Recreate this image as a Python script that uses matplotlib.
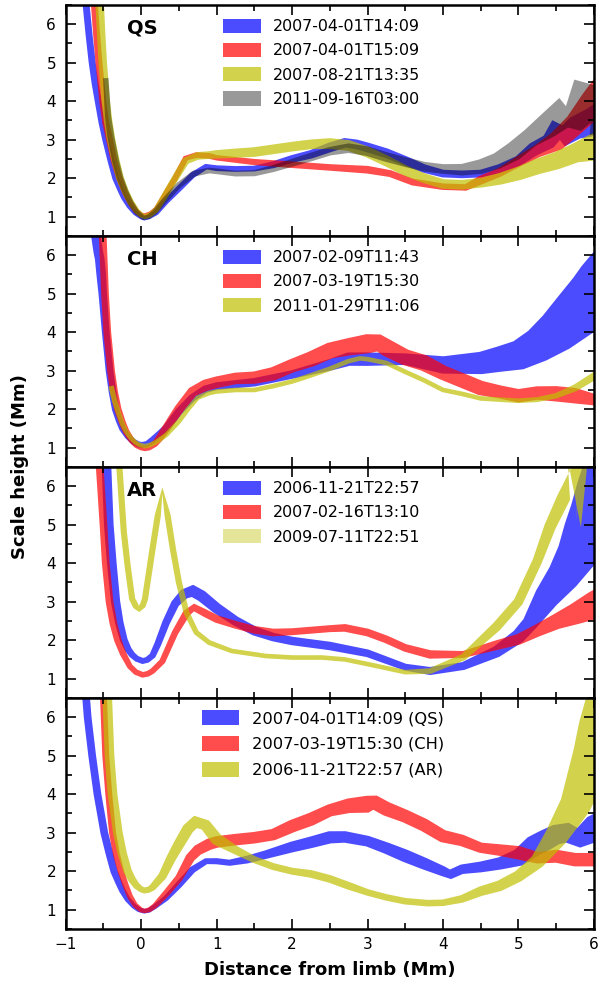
import matplotlib
matplotlib.use("Agg")
import matplotlib.pyplot as plt
import matplotlib.patches as mpatches
import numpy as np
from matplotlib.ticker import MultipleLocator

# Each band: centre line (x, y) and thickness w (Mm, measured across the band).
# The last point of a band may sit just past x = 6, where the axes clip it.

# ---- panel 1 : quiet sun ----
qs1_x = [-0.80,-0.73,-0.69,-0.65,-0.61,-0.57,-0.52,-0.47,-0.40,-0.34,-0.28,-0.23,-0.16,-0.08,0.00,0.04,0.10,0.20,0.33,0.50,0.68,0.86,1.00,1.25,1.50,1.75,2.00,2.25,2.50,2.70,2.85,3.00,3.25,3.50,3.75,4.00,4.25,4.50,4.75,5.00,5.20,5.40,5.50,5.60,5.75,5.90,6.00,6.15]
qs1_y = [7.5,6.5,5.7,5.0,4.45,4.0,3.45,3.0,2.45,2.0,1.72,1.5,1.28,1.1,0.99,0.96,0.99,1.1,1.4,1.73,2.08,2.3,2.26,2.24,2.25,2.35,2.5,2.62,2.8,2.92,2.88,2.8,2.65,2.45,2.25,2.12,2.1,2.12,2.25,2.45,2.75,2.95,3.25,3.1,3.3,3.4,3.5,3.7]
qs1_w = [0.18,0.18,0.18,0.18,0.18,0.18,0.18,0.18,0.18,0.17,0.16,0.15,0.14,0.13,0.12,0.12,0.12,0.13,0.15,0.16,0.16,0.15,0.15,0.15,0.15,0.18,0.2,0.22,0.25,0.25,0.25,0.25,0.25,0.25,0.22,0.2,0.2,0.2,0.23,0.27,0.36,0.4,0.55,0.55,0.6,0.7,0.7,0.7]

qs2_x = [-0.68,-0.62,-0.59,-0.56,-0.51,-0.47,-0.42,-0.36,-0.29,-0.22,-0.15,-0.07,0.00,0.05,0.12,0.20,0.30,0.45,0.59,0.73,0.90,1.00,1.50,2.00,2.50,3.00,3.30,3.60,4.00,4.30,4.50,4.75,5.00,5.25,5.50,5.75,6.00,6.15]
qs2_y = [7.8,6.5,5.7,5.0,4.0,3.45,3.0,2.45,2.0,1.65,1.38,1.15,1.05,1.03,1.08,1.2,1.52,2.0,2.52,2.6,2.58,2.53,2.42,2.35,2.28,2.22,2.12,1.9,1.78,1.76,1.95,2.15,2.43,2.7,2.95,3.4,3.95,4.3]
qs2_w = [0.18,0.18,0.18,0.18,0.18,0.18,0.18,0.17,0.16,0.15,0.14,0.13,0.12,0.12,0.12,0.13,0.14,0.15,0.15,0.15,0.15,0.14,0.16,0.17,0.17,0.2,0.18,0.18,0.17,0.17,0.23,0.23,0.27,0.33,0.5,0.56,0.75,0.8]

qs3_x = [-0.60,-0.55,-0.53,-0.51,-0.47,-0.44,-0.40,-0.34,-0.28,-0.21,-0.14,-0.06,0.00,0.05,0.12,0.20,0.30,0.45,0.59,0.75,0.90,1.00,1.25,1.50,1.75,2.00,2.25,2.50,2.75,3.00,3.25,3.50,3.75,4.00,4.25,4.50,4.75,5.00,5.25,5.50,5.75,6.00,6.15]
qs3_y = [7.8,6.5,5.7,5.0,4.0,3.5,3.0,2.45,2.0,1.65,1.38,1.15,1.04,1.0,1.05,1.18,1.5,2.0,2.45,2.58,2.6,2.62,2.65,2.68,2.75,2.82,2.88,2.9,2.85,2.68,2.45,2.2,2.0,1.85,1.83,1.88,1.98,2.12,2.3,2.45,2.65,2.8,2.9]
qs3_w = [0.22,0.22,0.22,0.22,0.22,0.22,0.22,0.21,0.2,0.18,0.17,0.15,0.14,0.14,0.14,0.15,0.17,0.18,0.2,0.2,0.2,0.22,0.24,0.25,0.25,0.25,0.25,0.28,0.28,0.28,0.28,0.27,0.25,0.25,0.25,0.25,0.3,0.35,0.4,0.45,0.5,0.7,0.7]

qs4_x = [-0.47,-0.44,-0.40,-0.34,-0.28,-0.21,-0.14,-0.06,0.03,0.10,0.18,0.30,0.50,0.70,0.90,1.00,1.25,1.50,1.75,2.00,2.25,2.50,2.75,3.00,3.25,3.50,3.75,4.00,4.25,4.50,4.72,4.94,5.16,5.38,5.60,5.73,5.85,6.00,6.15]
qs4_y = [4.6,3.6,3.05,2.45,2.0,1.65,1.36,1.12,0.97,1.0,1.12,1.4,1.82,2.12,2.2,2.18,2.12,2.13,2.25,2.4,2.55,2.7,2.78,2.7,2.55,2.42,2.3,2.24,2.22,2.3,2.45,2.7,3.05,3.35,3.7,3.55,4.0,3.75,3.9]
qs4_w = [0.14,0.16,0.18,0.18,0.17,0.16,0.15,0.14,0.13,0.13,0.14,0.15,0.16,0.16,0.15,0.15,0.15,0.16,0.18,0.2,0.22,0.22,0.25,0.25,0.25,0.25,0.25,0.25,0.3,0.38,0.42,0.5,0.5,0.65,0.8,0.75,1.2,1.3,1.3]

# ---- panel 2 : coronal hole ----
ch1_x = [-0.64,-0.60,-0.57,-0.55,-0.53,-0.51,-0.47,-0.42,-0.38,-0.34,-0.29,-0.25,-0.18,-0.10,-0.03,0.02,0.08,0.15,0.24,0.33,0.50,0.68,0.85,1.00,1.50,2.00,2.50,2.75,3.00,3.50,4.00,4.50,4.75,5.00,5.25,5.50,5.75,6.00,6.15]
ch1_y = [7.0,6.5,6.1,5.9,5.5,5.0,4.0,3.0,2.45,2.0,1.7,1.5,1.3,1.15,1.08,1.07,1.1,1.2,1.35,1.5,1.94,2.3,2.52,2.6,2.7,2.9,3.15,3.3,3.3,3.3,3.15,3.2,3.3,3.4,3.65,4.0,4.45,4.85,5.2]
ch1_w = [0.25,0.25,0.25,0.25,0.25,0.22,0.2,0.2,0.2,0.19,0.18,0.17,0.16,0.16,0.16,0.16,0.16,0.17,0.18,0.2,0.2,0.2,0.2,0.2,0.22,0.22,0.3,0.35,0.35,0.3,0.45,0.58,0.66,0.77,0.9,1.1,1.3,1.55,1.6]

ch2_x = [-0.55,-0.51,-0.48,-0.45,-0.40,-0.36,-0.31,-0.25,-0.20,-0.13,-0.06,0.00,0.05,0.10,0.18,0.25,0.33,0.50,0.68,0.85,1.00,1.25,1.50,1.75,2.00,2.25,2.50,2.75,3.00,3.15,3.25,3.50,3.75,4.00,4.25,4.50,4.75,5.00,5.25,5.50,5.75,6.00,6.15]
ch2_y = [7.5,6.5,5.0,4.0,3.0,2.45,2.0,1.65,1.42,1.2,1.06,1.0,0.98,1.0,1.1,1.27,1.5,2.0,2.45,2.62,2.7,2.8,2.82,2.92,3.13,3.3,3.52,3.62,3.7,3.72,3.6,3.35,3.2,2.95,2.75,2.55,2.45,2.35,2.42,2.4,2.35,2.25,2.2]
ch2_w = [0.2,0.2,0.2,0.2,0.2,0.2,0.19,0.18,0.17,0.16,0.15,0.14,0.14,0.15,0.17,0.2,0.22,0.25,0.27,0.3,0.3,0.3,0.32,0.35,0.35,0.4,0.42,0.45,0.5,0.45,0.45,0.42,0.42,0.38,0.38,0.38,0.34,0.35,0.35,0.4,0.4,0.3,0.3]

ch3_x = [-0.40,-0.35,-0.30,-0.25,-0.20,-0.14,-0.08,-0.02,0.05,0.12,0.20,0.33,0.50,0.62,0.75,0.90,1.00,1.25,1.50,1.75,2.00,2.25,2.50,2.75,2.90,3.00,3.25,3.50,3.75,4.00,4.25,4.50,4.75,5.00,5.25,5.50,5.75,6.00,6.15]
ch3_y = [2.6,2.2,1.9,1.62,1.42,1.26,1.14,1.07,1.04,1.07,1.15,1.33,1.68,2.0,2.3,2.42,2.46,2.5,2.5,2.6,2.72,2.88,3.05,3.25,3.32,3.3,3.2,2.97,2.75,2.5,2.4,2.28,2.25,2.22,2.25,2.35,2.55,2.85,3.05]
ch3_w = [0.14,0.14,0.13,0.13,0.12,0.12,0.12,0.12,0.12,0.12,0.12,0.12,0.12,0.12,0.12,0.12,0.12,0.12,0.12,0.12,0.12,0.12,0.12,0.12,0.12,0.12,0.12,0.12,0.12,0.12,0.12,0.12,0.12,0.12,0.13,0.14,0.18,0.2,0.2]

# ---- panel 3 : active region ----
ar1_x = [-0.50,-0.46,-0.43,-0.39,-0.34,-0.29,-0.23,-0.17,-0.12,-0.06,0.02,0.08,0.15,0.22,0.33,0.45,0.57,0.68,0.80,1.00,1.25,1.50,1.75,2.00,2.50,3.00,3.50,3.83,4.27,4.71,5.00,5.15,5.37,5.59,5.77,5.90,6.00,6.10]
ar1_y = [7.5,6.5,5.0,4.0,3.0,2.45,2.0,1.75,1.62,1.52,1.46,1.49,1.6,1.9,2.46,2.95,3.2,3.28,3.15,2.83,2.5,2.24,2.08,1.98,1.85,1.66,1.3,1.2,1.33,1.7,2.1,2.43,3.1,3.65,4.2,4.8,5.3,5.9]
ar1_w = [0.25,0.25,0.25,0.25,0.24,0.22,0.2,0.18,0.17,0.16,0.16,0.16,0.17,0.18,0.2,0.22,0.27,0.32,0.3,0.28,0.25,0.24,0.22,0.22,0.22,0.2,0.18,0.21,0.21,0.3,0.37,0.4,0.65,0.85,1.05,1.2,1.25,1.3]

ar2_x = [-0.60,-0.55,-0.50,-0.47,-0.42,-0.37,-0.31,-0.24,-0.15,-0.07,0.02,0.09,0.15,0.28,0.45,0.60,0.70,0.85,1.00,1.25,1.50,1.75,2.00,2.25,2.50,2.70,3.00,3.25,3.50,3.83,4.27,4.71,5.00,5.25,5.50,5.75,6.00,6.15]
ar2_y = [7.5,6.5,5.0,4.0,3.0,2.45,2.0,1.65,1.32,1.17,1.1,1.13,1.2,1.45,2.2,2.7,2.85,2.7,2.55,2.4,2.27,2.2,2.22,2.26,2.3,2.32,2.2,2.02,1.8,1.63,1.63,1.87,2.02,2.25,2.48,2.68,2.9,3.05]
ar2_w = [0.2,0.2,0.2,0.2,0.2,0.2,0.19,0.17,0.15,0.15,0.15,0.15,0.15,0.16,0.17,0.2,0.2,0.2,0.2,0.2,0.2,0.2,0.18,0.18,0.18,0.2,0.2,0.2,0.2,0.22,0.18,0.25,0.28,0.32,0.4,0.55,0.72,0.75]

ar3_x = [-0.30,-0.23,-0.18,-0.12,-0.07,-0.03,0.02,0.05,0.15,0.22,0.28,0.35,0.42,0.50,0.60,0.73,0.90,1.20,1.65,2.00,2.40,2.70,3.00,3.50,3.83,4.27,4.71,5.00,5.25,5.42,5.60,5.73,5.80,5.86,6.00]
ar3_y = [6.8,4.8,3.93,3.07,2.88,2.81,2.9,3.07,4.37,5.24,5.89,5.24,4.37,3.5,2.72,2.2,1.94,1.72,1.59,1.55,1.55,1.5,1.38,1.17,1.2,1.56,2.35,3.0,4.05,4.95,5.7,6.8,5.0,7.0,7.5]
ar3_w = [0.16,0.16,0.16,0.16,0.16,0.16,0.16,0.16,0.16,0.16,0.16,0.16,0.16,0.16,0.15,0.14,0.13,0.12,0.12,0.12,0.12,0.12,0.12,0.12,0.15,0.18,0.25,0.25,0.25,0.3,0.35,0.35,0.18,0.3,0.3]

# ---- panel 4 : comparison ----
cq_x = [-0.80,-0.73,-0.71,-0.65,-0.58,-0.53,-0.49,-0.42,-0.36,-0.30,-0.25,-0.18,-0.10,-0.03,0.04,0.10,0.18,0.33,0.50,0.68,0.86,1.00,1.17,1.40,1.65,2.00,2.25,2.50,2.70,3.00,3.25,3.50,3.75,4.00,4.10,4.25,4.50,4.75,5.00,5.20,5.35,5.50,5.65,5.80,6.00,6.15]
cq_y = [7.5,6.5,6.0,5.0,4.0,3.45,3.0,2.45,2.0,1.72,1.5,1.27,1.1,1.0,0.96,0.98,1.08,1.3,1.65,2.04,2.26,2.26,2.22,2.3,2.43,2.63,2.75,2.88,2.89,2.78,2.6,2.4,2.2,2.0,1.92,2.05,2.11,2.2,2.35,2.65,2.8,2.95,3.0,2.87,3.1,3.25]
cq_w = [0.2,0.2,0.2,0.2,0.2,0.2,0.2,0.2,0.19,0.18,0.17,0.15,0.14,0.13,0.12,0.12,0.13,0.15,0.18,0.18,0.16,0.16,0.16,0.2,0.22,0.28,0.3,0.32,0.3,0.28,0.3,0.33,0.31,0.26,0.25,0.25,0.28,0.32,0.45,0.55,0.55,0.52,0.52,0.52,0.7,0.7]

cc_x = [-0.56,-0.50,-0.47,-0.43,-0.38,-0.33,-0.27,-0.21,-0.15,-0.08,0.00,0.05,0.11,0.18,0.33,0.50,0.65,0.75,0.90,1.00,1.25,1.50,1.75,2.00,2.25,2.50,2.75,3.00,3.10,3.25,3.50,3.75,4.00,4.25,4.50,4.75,5.00,5.25,5.50,5.75,6.00,6.15]
cc_y = [7.5,6.5,5.0,4.0,3.0,2.45,2.0,1.65,1.35,1.12,0.99,0.97,1.0,1.1,1.42,1.82,2.35,2.55,2.7,2.76,2.82,2.87,2.95,3.17,3.35,3.58,3.7,3.74,3.78,3.62,3.43,3.2,2.91,2.8,2.61,2.55,2.48,2.35,2.39,2.3,2.3,2.3]
cc_w = [0.18,0.18,0.18,0.18,0.18,0.18,0.17,0.16,0.15,0.14,0.13,0.12,0.13,0.14,0.18,0.2,0.25,0.28,0.3,0.3,0.3,0.3,0.3,0.33,0.34,0.32,0.38,0.44,0.38,0.37,0.34,0.34,0.33,0.3,0.27,0.3,0.35,0.3,0.34,0.35,0.35,0.35]

ca_x = [-0.52,-0.45,-0.42,-0.38,-0.31,-0.25,-0.18,-0.12,-0.06,0.00,0.04,0.10,0.15,0.28,0.40,0.50,0.62,0.72,0.85,1.00,1.25,1.50,1.75,2.00,2.25,2.50,2.75,3.00,3.25,3.50,3.80,4.00,4.25,4.50,4.75,5.00,5.25,5.50,5.75,6.00,6.10]
ca_y = [7.5,6.5,5.0,4.0,3.0,2.45,2.0,1.78,1.62,1.53,1.5,1.52,1.58,1.87,2.35,2.7,3.1,3.28,3.2,2.83,2.55,2.3,2.12,2.0,1.93,1.8,1.62,1.45,1.32,1.22,1.17,1.18,1.28,1.48,1.62,1.87,2.25,2.9,3.7,5.0,5.7]
ca_w = [0.25,0.25,0.25,0.25,0.25,0.24,0.22,0.2,0.18,0.16,0.16,0.16,0.18,0.22,0.25,0.28,0.3,0.33,0.3,0.32,0.22,0.18,0.18,0.18,0.2,0.2,0.2,0.17,0.17,0.17,0.17,0.17,0.2,0.25,0.28,0.3,0.38,0.6,0.8,1.1,1.2]

panels = [
    ("QS", [(qs1_x, qs1_y, qs1_w, "b", 0.7, "2007-04-01T14:09"),
            (qs2_x, qs2_y, qs2_w, "r", 0.7, "2007-04-01T15:09"),
            (qs3_x, qs3_y, qs3_w, "y", 0.7, "2007-08-21T13:35"),
            (qs4_x, qs4_y, qs4_w, "k", 0.4, "2011-09-16T03:00")]),
    ("CH", [(ch1_x, ch1_y, ch1_w, "b", 0.7, "2007-02-09T11:43"),
            (ch2_x, ch2_y, ch2_w, "r", 0.7, "2007-03-19T15:30"),
            (ch3_x, ch3_y, ch3_w, "y", 0.7, "2011-01-29T11:06")]),
    ("AR", [(ar1_x, ar1_y, ar1_w, "b", 0.7, "2006-11-21T22:57"),
            (ar2_x, ar2_y, ar2_w, "r", 0.7, "2007-02-16T13:10"),
            (ar3_x, ar3_y, ar3_w, "y", 0.7, "2009-07-11T22:51")]),
    ("", [(cq_x, cq_y, cq_w, "b", 0.7, "2007-04-01T14:09 (QS)"),
          (cc_x, cc_y, cc_w, "r", 0.7, "2007-03-19T15:30 (CH)"),
          (ca_x, ca_y, ca_w, "y", 0.7, "2006-11-21T22:57 (AR)")]),
]


def band(ax, x, y, w, **kw):
    # thick ribbon around the centre line, thickness measured across the line
    pts = ax.transData.transform(np.column_stack([x, y]))
    w = np.asarray(w, dtype=float)
    if x[-1] > 6:
        # run the ribbon on past the clipped right edge so its end cap is hidden
        t = pts[-1] - pts[-2]
        pts = np.vstack([pts, pts[-1] + t / np.hypot(*t) * 120])
        w = np.append(w, w[-1])
    d = np.gradient(pts, axis=0)
    d /= np.hypot(d[:, 0], d[:, 1])[:, None]
    n = np.column_stack([-d[:, 1], d[:, 0]])
    ppu = ax.transData.transform((0, 1))[1] - ax.transData.transform((0, 0))[1]
    half = w[:, None] * ppu / 2
    inv = ax.transData.inverted()
    up = inv.transform(pts + n * half)
    lo = inv.transform(pts - n * half)
    poly = np.vstack([up, lo[::-1]])
    ax.fill(poly[:, 0], poly[:, 1], lw=0, **kw)


fig, axes = plt.subplots(4, 1, sharex=True, figsize=(5.98, 9.91), dpi=100)
plt.subplots_adjust(left=0.110, right=0.993, top=0.995, bottom=0.0626, hspace=0)

for k, (ax, (name, series)) in enumerate(zip(axes, panels)):
    ax.set_xlim(-1, 6)
    ax.set_ylim(0.5, 6.5)
    handles = []
    for x, y, w, col, a, lab in series:
        band(ax, x, y, w, color=col, alpha=a)
        # AR panel's last legend patch is paler than its band
        la = 0.4 if (k == 2 and col == "y") else a
        handles.append(mpatches.Patch(color=col, alpha=la, lw=0, label=lab))
    ax.set_xlim(-1, 6)
    ax.set_ylim(0.5, 6.5)
    ax.xaxis.set_major_locator(MultipleLocator(1))
    ax.xaxis.set_minor_locator(MultipleLocator(0.5))
    ax.yaxis.set_minor_locator(MultipleLocator(0.5))
    ax.set_yticks([1, 2, 3, 4, 5, 6])
    ax.tick_params(which="both", direction="in", top=True, right=True, labelsize=11, width=1.2)
    ax.tick_params(which="major", length=7)
    ax.tick_params(which="minor", length=4)
    ax.tick_params(axis="y", pad=7)
    ax.tick_params(axis="x", pad=6)
    for sp in ax.spines.values():
        sp.set_linewidth(1.8)
    if name:
        ax.text(0.115, 0.90, name, transform=ax.transAxes, fontsize=14,
                fontweight="bold", va="center", ha="left")
        ax.legend(handles=handles, loc="upper left", bbox_to_anchor=(0.285, 0.968),
                  frameon=False, fontsize=11.4, handlelength=2.4, handleheight=1.0,
                  handletextpad=0.8, labelspacing=0.55, borderaxespad=0)
    else:
        ax.legend(handles=handles, loc="upper left", bbox_to_anchor=(0.245, 0.975),
                  frameon=False, fontsize=11.7, handlelength=2.3, handleheight=1.0,
                  handletextpad=0.8, labelspacing=0.62, borderaxespad=0)

axes[-1].set_xlabel("Distance from limb (Mm)", fontsize=13, fontweight="bold", labelpad=6)
fig.text(0.033, 0.529, "Scale height (Mm)", rotation=90, fontsize=13, fontweight="bold",
         va="center", ha="center")

fig.savefig("out.png", dpi=100)
